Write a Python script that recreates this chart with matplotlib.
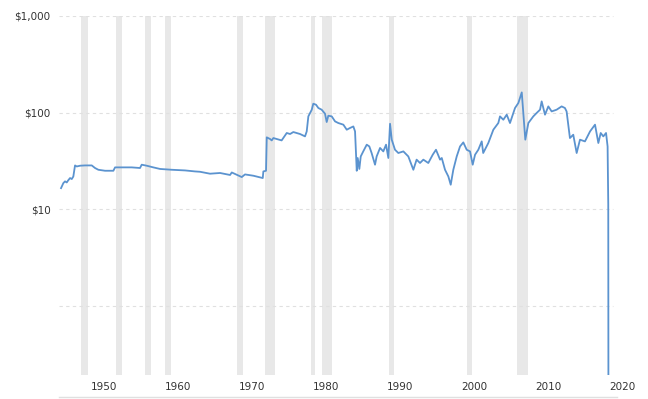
import matplotlib
matplotlib.use("Agg")
import matplotlib.pyplot as plt
from matplotlib.lines import Line2D
from matplotlib.ticker import FixedLocator, NullLocator

# price series (year, value in $)
years = [1944.19, 1944.50, 1944.73, 1944.96, 1945.16, 1945.41, 1945.64, 1945.85,
         1946.08, 1946.31, 1946.76, 1947.43, 1948.34, 1948.78, 1949.23, 1950.14,
         1951.26, 1951.49, 1952.39, 1953.74, 1954.86, 1955.09, 1955.77, 1956.66,
         1957.57, 1959.15, 1960.95, 1962.30, 1962.97, 1964.32, 1965.68, 1967.03,
         1967.26, 1968.61, 1969.05, 1970.18, 1971.45, 1971.53, 1971.89, 1971.99,
         1972.43, 1972.66, 1972.88, 1974.00, 1974.69, 1975.14, 1975.58, 1976.49,
         1977.16, 1977.39, 1977.61, 1978.07, 1978.28, 1978.65, 1978.96, 1979.41,
         1979.86, 1980.09, 1980.31, 1980.77, 1981.22, 1981.66, 1982.34, 1982.80,
         1983.24, 1983.69, 1983.92, 1984.15, 1984.28, 1984.50, 1984.69, 1985.03,
         1985.50, 1985.85, 1986.16, 1986.62, 1986.84, 1987.30, 1987.74, 1988.11,
         1988.42, 1988.65, 1988.88, 1989.32, 1989.77, 1990.45, 1991.12, 1991.80,
         1992.24, 1992.70, 1993.15, 1993.82, 1994.42, 1994.86, 1995.41, 1995.64,
         1996.08, 1996.53, 1996.85, 1997.20, 1997.66, 1998.11, 1998.55, 1999.01,
         1999.46, 1999.82, 2000.14, 2000.58, 2001.04, 2001.24, 2001.93, 2002.61,
         2003.28, 2003.51, 2003.96, 2004.42, 2004.86, 2005.54, 2005.99, 2006.45,
         2006.66, 2006.93, 2007.34, 2008.01, 2008.46, 2008.92, 2009.14, 2009.59,
         2010.04, 2010.49, 2011.16, 2011.84, 2012.28, 2012.51, 2012.96, 2013.41,
         2013.87, 2014.32, 2014.99, 2015.68, 2016.35, 2016.80, 2017.12, 2017.47,
         2017.84, 2018.05, 2018.14, 2018.16]
prices = [16.6, 18.7, 19.5, 19.0, 20.0, 21.1, 20.6, 21.9,
          28.5, 27.8, 28.3, 28.5, 28.5, 26.8, 25.7, 25.1,
          25.1, 27.2, 27.2, 27.2, 26.8, 29.0, 28.3, 27.2,
          26.2, 25.7, 25.3, 24.7, 24.5, 23.4, 23.8, 22.7,
          24.1, 21.6, 23.0, 22.3, 21.1, 24.7, 25.1, 55.6,
          53.5, 51.7, 54.7, 51.7, 61.7, 60.2, 63.1, 60.2,
          56.9, 64.1, 91.6, 107.4, 123.9, 120.9, 111.9, 107.4,
          97.7, 80.1, 93.1, 91.6, 81.3, 78.2, 75.2, 66.7,
          69.5, 72.1, 64.1, 25.1, 34.0, 26.2, 35.3, 39.8,
          46.7, 44.8, 38.3, 29.0, 35.3, 43.2, 39.8, 46.7,
          34.0, 76.9, 52.6, 41.4, 38.3, 39.8, 35.3, 25.7,
          32.7, 30.2, 32.7, 30.2, 36.8, 41.4, 32.7, 34.0,
          25.7, 21.9, 18.0, 25.7, 35.3, 44.8, 49.3, 41.4,
          39.8, 29.0, 36.8, 41.4, 50.5, 38.3, 48.6, 66.7,
          78.2, 91.6, 84.6, 95.4, 78.2, 111.9, 126.0, 162.2,
          99.3, 52.6, 78.2, 91.6, 99.3, 107.4, 130.9, 95.4,
          116.2, 103.1, 107.4, 116.2, 111.9, 103.1, 54.7, 59.2,
          38.3, 52.6, 50.5, 64.1, 75.2, 48.6, 61.7, 56.9,
          61.7, 44.8, 11.2, 0.18]

# recession periods (start, end)
recessions = [(1946.89, 1947.84), (1951.62, 1952.43), (1955.54, 1956.35),
              (1958.24, 1959.05), (1967.97, 1968.78), (1971.76, 1973.11),
              (1977.97, 1978.51), (1979.46, 1980.81), (1988.51, 1989.19),
              (1999.05, 1999.73), (2005.81, 2007.30)]

grid_levels = [1, 10, 100, 1000]
ytick_vals = [10, 100, 1000]
ytick_labels = ['$10', '$100', '$1,000']
xtick_vals = [1950, 1960, 1970, 1980, 1990, 2000, 2010, 2020]

fig = plt.figure(figsize=(6.48, 3.99), dpi=100)
ax = fig.add_axes([0.0909, 0.0602, 0.8713, 0.8997])

for start, end in recessions:
    ax.axvspan(start, end, color='#e8e8e8', lw=0, zorder=0)

ax.hlines(grid_levels, 1943.9, 2018.8, colors='#e0e0e0', linestyles=(0, (3, 3)),
          linewidth=0.8, zorder=1)

ax.plot(years, prices, color='#5b93cf', linewidth=1.3, zorder=3)

ax.set_yscale('log')
ax.set_ylim(0.194, 1000)
ax.set_xlim(1943.9, 2020.2)

ax.yaxis.set_major_locator(FixedLocator(ytick_vals))
ax.yaxis.set_minor_locator(NullLocator())
ax.set_yticklabels(ytick_labels)
ax.set_xticks(xtick_vals)
ax.set_xticklabels([str(v) for v in xtick_vals])

ax.tick_params(axis='both', length=0, labelsize=7.5, labelcolor='#333333')
ax.tick_params(axis='y', pad=6)
ax.tick_params(axis='x', pad=5)

for s in ax.spines.values():
    s.set_visible(False)

# thin baseline along the bottom of the figure
fig.add_artist(Line2D([0.091, 0.952], [0.006, 0.006], transform=fig.transFigure,
                      color='#e0e0e0', linewidth=1.0))

fig.savefig('out.png', dpi=100)
